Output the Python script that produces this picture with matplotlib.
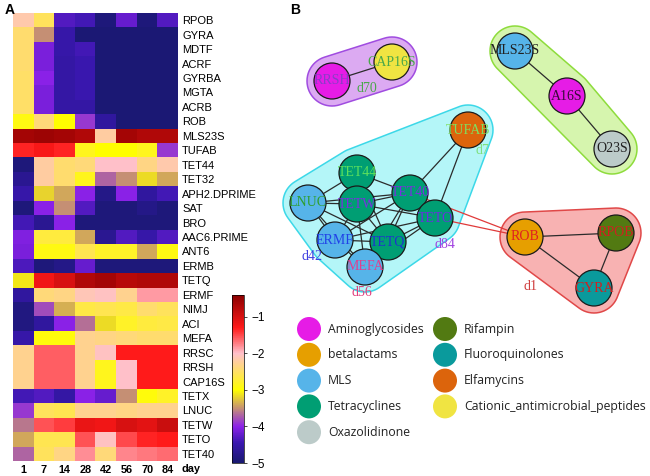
import numpy as np
import matplotlib
matplotlib.use("Agg")
import matplotlib.pyplot as plt
from matplotlib.colors import LinearSegmentedColormap
from matplotlib.patches import Circle, Polygon

# ---- panel A data: log10 relative abundance, one row per gene ----
genes = ["RPOB", "GYRA", "MDTF", "ACRF", "GYRBA", "MGTA", "ACRB", "ROB", "MLS23S",
         "TUFAB", "TET44", "TET32", "APH2.DPRIME", "SAT", "BRO", "AAC6.PRIME", "ANT6",
         "ERMB", "TETQ", "ERMF", "NIMJ", "ACI", "MEFA", "RRSC", "RRSH", "CAP16S",
         "TETX", "LNUC", "TETW", "TETO", "TET40"]
days = ["1", "7", "14", "28", "42", "56", "70", "84"]
abund = [
    [-2.15, -2.55, -4.3, -4.4, -4.9, -4.2, -4.9, -4.3],
    [-2.45, -3.5, -4.5, -4.95, -4.95, -4.95, -4.95, -4.95],
    [-2.45, -4.1, -4.5, -4.4, -4.95, -4.95, -4.95, -4.95],
    [-2.45, -4.1, -4.55, -4.45, -4.95, -4.95, -4.95, -4.95],
    [-2.5, -4.0, -4.55, -4.45, -4.95, -4.95, -4.95, -4.95],
    [-2.5, -4.1, -4.55, -4.45, -4.95, -4.95, -4.95, -4.95],
    [-2.5, -4.1, -4.55, -4.55, -4.95, -4.95, -4.95, -4.95],
    [-2.9, -2.4, -3.0, -3.9, -4.6, -4.95, -4.95, -4.95],
    [-0.6, -0.55, -0.6, -0.7, -2.2, -0.6, -0.7, -0.7],
    [-1.35, -1.25, -1.35, -2.85, -3.0, -3.0, -2.85, -3.9],
    [-4.9, -2.2, -2.45, -2.4, -2.0, -2.0, -2.35, -2.15],
    [-4.7, -2.2, -2.45, -2.85, -3.7, -3.5, -3.15, -3.4],
    [-4.5, -3.2, -3.4, -4.0, -4.8, -4.0, -4.6, -4.4],
    [-4.9, -4.0, -3.5, -4.3, -4.9, -4.9, -4.8, -4.9],
    [-4.4, -4.7, -4.0, -4.9, -4.9, -4.9, -4.9, -4.9],
    [-4.05, -2.7, -2.7, -3.4, -4.7, -4.3, -4.5, -4.3],
    [-4.1, -2.9, -2.9, -2.6, -2.8, -2.8, -3.4, -2.9],
    [-4.35, -4.9, -4.8, -4.2, -4.9, -4.9, -4.9, -4.9],
    [-3.1, -1.2, -1.0, -0.7, -0.6, -0.75, -0.7, -0.7],
    [-4.6, -2.4, -2.35, -2.1, -2.05, -2.3, -1.85, -1.85],
    [-4.85, -3.8, -3.35, -2.65, -2.6, -2.65, -2.45, -2.55],
    [-4.85, -4.6, -4.0, -3.65, -3.15, -2.8, -2.7, -2.65],
    [-4.5, -2.95, -2.95, -2.3, -2.35, -2.4, -2.45, -2.45],
    [-2.3, -1.6, -1.6, -2.3, -2.05, -1.3, -1.3, -1.3],
    [-2.3, -1.6, -1.6, -2.3, -2.85, -2.0, -1.3, -1.3],
    [-2.3, -1.6, -1.6, -2.3, -2.85, -2.0, -1.3, -1.3],
    [-4.4, -4.3, -4.55, -4.0, -4.2, -3.5, -2.95, -2.8],
    [-3.9, -2.55, -2.6, -2.3, -2.3, -2.35, -2.3, -2.3],
    [-3.6, -1.55, -1.45, -1.15, -1.2, -1.0, -1.1, -0.9],
    [-3.4, -2.6, -2.6, -1.55, -2.05, -1.5, -1.35, -1.3],
    [-3.7, -2.55, -2.35, -1.8, -2.4, -1.75, -1.7, -1.65],
]
cbar_ticks = [-1, -2, -3, -4, -5]

# ---- panel B data: network layout (pixel-like layout units) ----
node_names = ["RRSH", "CAP16S", "MLS23S", "A16S", "O23S", "TUFAB", "TET44", "LNUC",
              "TETW", "TET40", "TETO", "ERMF", "TETQ", "MEFA", "ROB", "RPOB", "GYRA"]
node_x = [332, 392, 515, 567, 612, 468, 357, 308, 357, 410, 435, 335, 388, 365, 525, 616, 594]
node_y = [81, 62, 51, 96, 149, 130, 173, 203, 204, 193, 218, 240, 242, 267, 237, 233, 288]
node_class = ["Aminoglycosides", "Cationic_antimicrobial_peptides", "MLS", "Aminoglycosides",
              "Oxazolidinone", "Elfamycins", "Tetracyclines", "MLS", "Tetracyclines",
              "Tetracyclines", "Tetracyclines", "MLS", "Tetracyclines", "MLS", "betalactams",
              "Rifampin", "Fluoroquinolones"]
label_col = ["#8a3cc8", "#4aa84a", "#202020", "#3a0a3a", "#202020", "#7fe060", "#5de05d",
             "#2f9f2f", "#7a2ee0", "#7a2ee0", "#6a2ee0", "#2040e8", "#2030d0", "#e0408f",
             "#e02020", "#d02020", "#d02020"]

classes = ["Aminoglycosides", "betalactams", "MLS", "Tetracyclines", "Oxazolidinone",
           "Rifampin", "Fluoroquinolones", "Elfamycins", "Cationic_antimicrobial_peptides"]
class_colors = ["#e61ce6", "#e69f00", "#56b4e9", "#009e73", "#bccbc9",
                "#527a12", "#0a9a9c", "#dc640c", "#f0e442"]

edges = [("RRSH", "CAP16S"), ("MLS23S", "A16S"), ("A16S", "O23S"),
         ("ROB", "RPOB"), ("ROB", "GYRA"), ("RPOB", "GYRA"),
         ("TUFAB", "TET40"), ("TUFAB", "TETO"),
         ("TET44", "TETW"), ("TET44", "TET40"), ("TET44", "LNUC"),
         ("TETW", "TET40"), ("LNUC", "TETW"), ("LNUC", "TET40"), ("TETW", "TETO"),
         ("TET40", "TETO"), ("TETW", "TETQ"), ("TETW", "ERMF"), ("TETW", "MEFA"),
         ("TET40", "TETQ"), ("TET40", "ERMF"), ("TETO", "TETQ"), ("TETO", "ERMF"),
         ("TETQ", "ERMF"), ("TETQ", "MEFA"), ("ERMF", "MEFA"), ("LNUC", "ERMF"),
         ("LNUC", "TETQ"), ("LNUC", "MEFA"), ("TET40", "MEFA"), ("TETO", "MEFA"),
         ("TET44", "TETQ")]
red_edges = [("TET40", "ROB"), ("TETO", "ROB")]

groups = [["RRSH", "CAP16S"], ["MLS23S", "A16S", "O23S"],
          ["TUFAB", "TET44", "LNUC", "TETW", "TET40", "TETO", "ERMF", "TETQ", "MEFA"],
          ["ROB", "RPOB", "GYRA"]]
group_fill = ["#dcaaf2", "#d6f5ae", "#b4f6f8", "#f8b2b2"]
group_edge = ["#a04ce0", "#8edc3c", "#3cd8e8", "#e04848"]
group_text = ["d70", "d7", "d84", "d42", "d56", "d1"]
group_tx = [367, 482, 445, 312, 362, 531]
group_ty = [88, 151, 244, 256, 292, 287]
group_tcol = ["#4aa84a", "#7fe07f", "#a040e0", "#4040e0", "#e0407f", "#d04040"]


def hull(points):
    pts = sorted(set(points))
    def cross(o, a, b):
        return (a[0] - o[0]) * (b[1] - o[1]) - (a[1] - o[1]) * (b[0] - o[0])
    lower, upper = [], []
    for p in pts:
        while len(lower) >= 2 and cross(lower[-2], lower[-1], p) <= 0:
            lower.pop()
        lower.append(p)
    for p in reversed(pts):
        while len(upper) >= 2 and cross(upper[-2], upper[-1], p) <= 0:
            upper.pop()
        upper.append(p)
    return lower[:-1] + upper[:-1]


def main():
    fig = plt.figure(figsize=(6.5, 4.76), dpi=100)

    # ---------- panel A ----------
    vmin, vmax = -5, -0.4
    stops = [(-5, "#191970"), (-4.45, "#3a17b0"), (-4, "#8c22e8"), (-3, "#ffff00"),
             (-2, "#ffc0cb"), (-1.3, "#ff1a1a"), (-0.4, "#8b0000")]
    cmap = LinearSegmentedColormap.from_list(
        "abund", [((v - vmin) / (vmax - vmin), c) for v, c in stops])

    ax = fig.add_axes([13 / 650, 1 - 461 / 476, 165 / 650, 448 / 476])
    data = np.array(abund)
    im = ax.imshow(data, cmap=cmap, vmin=vmin, vmax=vmax, aspect="auto",
                   interpolation="nearest")
    ax.set_yticks(range(len(genes)))
    ax.set_yticklabels(genes, family="Liberation Sans", fontsize=8)
    ax.yaxis.tick_right()
    ax.set_xticks(range(len(days)))
    ax.set_xticklabels(days, family="Liberation Sans", fontsize=7.8, fontweight="bold")
    ax.tick_params(length=0, pad=3)
    for s in ax.spines.values():
        s.set_visible(False)
    ax.text(len(days) - 0.32, len(genes) - 0.28, "day", family="Liberation Sans",
            fontsize=7.8, fontweight="bold", ha="left", va="top")

    cax = fig.add_axes([232 / 650, 1 - 463 / 476, 12 / 650, 168 / 476])
    cb = fig.colorbar(im, cax=cax, ticks=cbar_ticks)
    cb.outline.set_linewidth(0.5)
    cax.tick_params(labelsize=8.5, length=2, width=0.5)
    for t in cax.get_yticklabels():
        t.set_family("Liberation Sans")

    fig.text(5 / 650, 1 - 10 / 476, "A", family="Liberation Sans", fontsize=10,
             fontweight="bold", va="center")
    fig.text(290 / 650, 1 - 10 / 476, "B", family="Liberation Sans", fontsize=10,
             fontweight="bold", va="center")

    # ---------- panel B ----------
    nx = fig.add_axes([280 / 650, 0, 370 / 650, 1])
    nx.set_xlim(280, 650)
    nx.set_ylim(476, 0)
    nx.axis("off")
    pos = {n: (x, y) for n, x, y in zip(node_names, node_x, node_y)}
    cmap_cls = dict(zip(classes, class_colors))

    ang = np.linspace(0, 2 * np.pi, 60, endpoint=False)
    for members, fc, ec in zip(groups, group_fill, group_edge):
        pts = []
        for m in members:
            x, y = pos[m]
            pts += [(x + 25 * np.cos(a), y + 25 * np.sin(a)) for a in ang]
        nx.add_patch(Polygon(hull(pts), closed=True, facecolor=fc, edgecolor=ec,
                             lw=1.1, zorder=1))

    for a, b in edges:
        nx.plot([pos[a][0], pos[b][0]], [pos[a][1], pos[b][1]], color="#2b2b2b",
                lw=0.9, zorder=2)
    for a, b in red_edges:
        nx.plot([pos[a][0], pos[b][0]], [pos[a][1], pos[b][1]], color="#e03a3a",
                lw=0.9, zorder=2)

    for n, cls, lc in zip(node_names, node_class, label_col):
        x, y = pos[n]
        nx.add_patch(Circle((x, y), 18, facecolor=cmap_cls[cls], edgecolor="#1a1a1a",
                            lw=0.9, zorder=3))
        nx.text(x, y, n, family="Liberation Serif", fontsize=10, color=lc,
                ha="center", va="center", zorder=4)

    for t, x, y, c in zip(group_text, group_tx, group_ty, group_tcol):
        nx.text(x, y, t, family="Liberation Serif", fontsize=10, color=c,
                ha="center", va="center", zorder=4)

    # legend
    for i, (cls, col) in enumerate(zip(classes, class_colors)):
        cx = 309 if i < 5 else 445
        cy = 329 + 25.8 * (i if i < 5 else i - 5)
        nx.add_patch(Circle((cx, cy), 12, facecolor=col, edgecolor="none", zorder=3))
        nx.text(cx + 19, cy, cls, family="Open Sans", fontsize=8.8, color="#222222",
                ha="left", va="center")

    fig.savefig("out.png", dpi=100)


if __name__ == "__main__":
    main()
